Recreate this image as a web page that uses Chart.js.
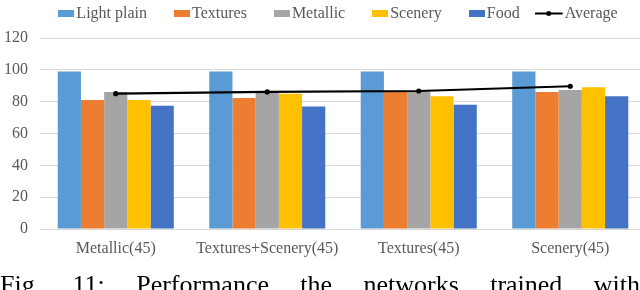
<!DOCTYPE html>
<html>
<head>
<meta charset="utf-8">
<script src="https://cdn.jsdelivr.net/npm/chart.js@4"></script>
<style>
  html, body { margin: 0; padding: 0; background: #fff; width: 640px; height: 290px; overflow: hidden; }
  #wrap { position: relative; width: 640px; height: 290px; overflow: hidden; }
  canvas { position: absolute; left: 0; top: 0; }
  #caption {
    position: absolute; left: 0; top: 272px; width: 640px;
    display: flex; justify-content: space-between;
    font-family: 'Liberation Serif', 'Times New Roman', serif;
    font-size: 26px; line-height: 26px; color: #000; white-space: nowrap;
  }
</style>
</head>
<body>
<div id="wrap">
  <canvas id="c" width="681" height="290" style="width:681px;height:290px"></canvas>
  <div id="caption"><span>Fig.</span><span>11:</span><span>Performance</span><span>the</span><span>networks</span><span>trained</span><span>with</span></div>
</div>
<script>
const categories = ['Metallic(45)', 'Textures+Scenery(45)', 'Textures(45)', 'Scenery(45)'];
const lightPlain = [99, 99, 99, 99];
const textures   = [81, 82.3, 86, 86];
const metallic   = [86, 86, 86.5, 87.4];
const scenery    = [81, 85, 83.4, 89];
const food       = [77.5, 77, 78, 83.4];
const average    = [85, 86.1, 86.7, 89.7];
const yTicks     = [0, 20, 40, 60, 80, 100, 120];

const FONT = "'Liberation Serif', 'Times New Roman', serif";
const TEXT = '#595959';
const GRID = '#d9d9d9';

function boxImg(color) {
  const c = document.createElement('canvas');
  c.width = 16; c.height = 7;
  const g = c.getContext('2d');
  g.fillStyle = color; g.fillRect(0, 0, 16, 7);
  return c;
}
function lineImg() {
  const c = document.createElement('canvas');
  c.width = 40; c.height = 7;
  const g = c.getContext('2d');
  g.strokeStyle = '#000'; g.lineWidth = 2;
  g.beginPath(); g.moveTo(0, 3.5); g.lineTo(28, 3.5); g.stroke();
  g.fillStyle = '#000'; g.beginPath(); g.arc(14, 3.5, 2.5, 0, Math.PI * 2); g.fill();
  return c;
}

const series = [
  { label: 'Light plain', data: lightPlain, color: '#5B9BD5' },
  { label: 'Textures', data: textures, color: '#ED7D31' },
  { label: 'Metallic', data: metallic, color: '#A5A5A5' },
  { label: 'Scenery', data: scenery, color: '#FFC000' },
  { label: 'Food', data: food, color: '#4472C4' }
];

const datasets = series.map(s => ({
  type: 'bar', label: s.label, data: s.data,
  backgroundColor: s.color, borderWidth: 0,
  categoryPercentage: 0.766, barPercentage: 1.0, order: 1
}));
datasets.push({
  type: 'line', label: 'Average', data: average,
  borderColor: '#000', backgroundColor: '#000', borderWidth: 2.2,
  pointRadius: 2.6, pointBackgroundColor: '#000', pointBorderWidth: 0,
  tension: 0, fill: false, order: -1
});

const legendImgs = series.map(s => boxImg(s.color)).concat([lineImg()]);

new Chart(document.getElementById('c'), {
  data: { labels: categories, datasets },
  options: {
    responsive: false, animation: false,
    devicePixelRatio: 1,
    layout: { padding: { left: 5, right: 4, top: -27.5, bottom: 21.8 } },
    plugins: {
      tooltip: { enabled: false },
      title: {
        display: true, text: '', position: 'top', weight: 500,
        font: { size: 5, lineHeight: 1.3 }, padding: 0
      },
      legend: {
        position: 'top', fullSize: true, align: 'center',
        labels: {
          usePointStyle: true, pointStyleWidth: 4, boxHeight: 7,
          padding: 33, color: TEXT,
          font: { family: FONT, size: 16 },
          generateLabels: (chart) => chart.data.datasets.map((d, i) => ({
            text: d.label, fillStyle: '#000', strokeStyle: '#000', lineWidth: 0,
            pointStyle: legendImgs[i], hidden: false, datasetIndex: i, fontColor: TEXT
          }))
        }
      }
    },
    scales: {
      x: {
        grid: { display: false, drawTicks: false },
        border: { display: true, color: GRID, width: 1 },
        ticks: { color: TEXT, font: { family: FONT, size: 16 }, padding: 10, maxRotation: 0, autoSkip: false }
      },
      y: {
        min: 0, max: 120,
        afterBuildTicks: (scale) => { scale.ticks = yTicks.map(v => ({ value: v })); },
        afterFit: (scale) => { scale.width = 35; },
        grid: { color: GRID, lineWidth: 1, drawTicks: false },
        border: { display: false },
        ticks: { color: TEXT, font: { family: FONT, size: 16 }, padding: 12 }
      },
      yRight: {
        position: 'right', min: 0, max: 120,
        afterFit: (scale) => { scale.width = 31; },
        grid: { display: false, drawTicks: false },
        border: { display: false },
        ticks: { display: false }
      }
    }
  }
});
</script>
</body>
</html>
